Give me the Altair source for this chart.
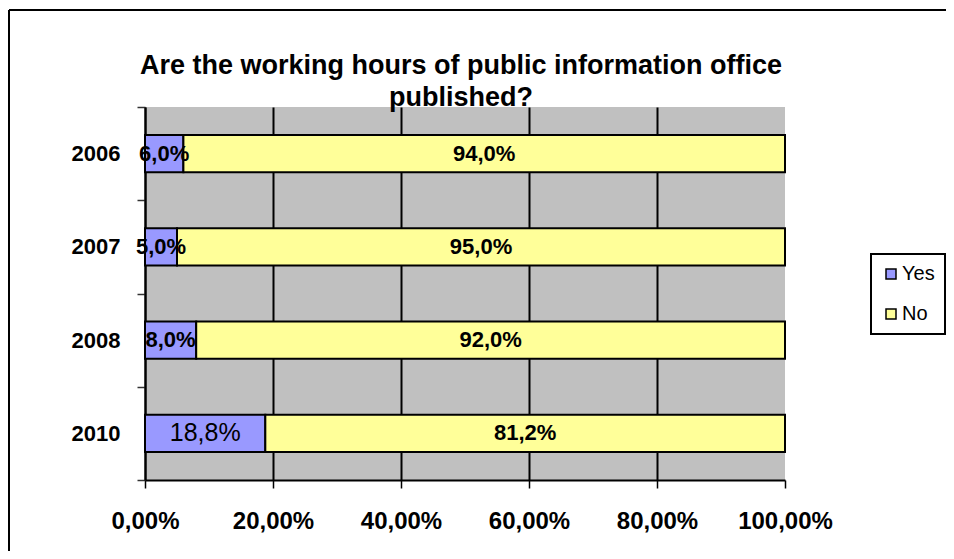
import altair as alt
import pandas as pd

years = ["2006", "2007", "2008", "2010"]
yes_pct = [6.0, 5.0, 8.0, 18.8]
no_pct = [94.0, 95.0, 92.0, 81.2]
answers = ["Yes", "No"]
colors = ["#9999FF", "#FFFF99"]
x_ticks = [0, 0.2, 0.4, 0.6, 0.8, 1.0]
title_lines = ["Are the working hours of public information office", "published?"]

rows = []
for yr, a, b in zip(years, yes_pct, no_pct):
    rows.append({"year": yr, "answer": "Yes", "value": a / 100, "idx": 0})
    rows.append({"year": yr, "answer": "No", "value": b / 100, "idx": 1})
df = pd.DataFrame(rows)

FONT = "Liberation Sans"

base = alt.Chart(df).transform_stack(
    stack="value", groupby=["year"], as_=["x0", "x1"],
    sort=[alt.SortField("idx", order="ascending")]
).transform_calculate(
    mid="(datum.x0 + datum.x1) / 2",
    label="replace(format(datum.value, '.1%'), '.', ',')"
)

y_scale = alt.Scale(paddingInner=0, paddingOuter=0)

y_enc = alt.Y(
    "year:N", sort=years, title=None, scale=y_scale,
    axis=alt.Axis(
        tickBand="extent", labelFont=FONT, labelFontSize=22, labelFontWeight="bold",
        labelColor="black", labelPadding=17, tickSize=8, tickColor="#333333",
        tickWidth=1.5, domainColor="black", domainWidth=2, grid=False,
    ),
)

x_axis = alt.Axis(
    values=x_ticks, labelExpr="replace(format(datum.value, '.2%'), '.', ',')",
    labelFont=FONT, labelFontSize=24, labelFontWeight="bold", labelColor="black",
    labelPadding=21, tickSize=8, tickColor="black", tickWidth=1.5,
    labelOverlap=False, labelFlush=False, labelBound=False,
    domainColor="black", domainWidth=2, grid=True, gridColor="black", gridWidth=2,
    gridOpacity={"condition": {"test": "datum.value >= 1", "value": 0}, "value": 1},
    title=None,
)

bars = base.mark_bar(stroke="black", strokeWidth=2, height=alt.RelativeBandSize(0.4)).encode(
    x=alt.X("x0:Q", scale=alt.Scale(domain=[0, 1], nice=False), axis=x_axis, title=None),
    x2="x1:Q",
    y=y_enc,
    color=alt.Color(
        "answer:N", scale=alt.Scale(domain=answers, range=colors),
        legend=alt.Legend(
            orient="none", legendX=726, legendY=147, title=None,
            strokeColor="black", fillColor="white", padding=10,
            labelFont=FONT, labelFontSize=20, labelColor="black",
            symbolType="square", symbolSize=100, symbolStrokeColor="black",
            symbolStrokeWidth=1.5, rowPadding=20, labelOffset=1,
        ),
    ),
)

labels_bold = base.transform_filter(
    "!(datum.year == '2010' && datum.answer == 'Yes')"
).mark_text(font=FONT, fontSize=22, fontWeight="bold", color="black").encode(
    x=alt.X("mid:Q"), y=alt.Y("year:N", sort=years), text="label:N"
)

labels_plain = base.transform_filter(
    "datum.year == '2010' && datum.answer == 'Yes'"
).mark_text(font=FONT, fontSize=25, fontWeight="normal", color="black").encode(
    x=alt.X("mid:Q"), y=alt.Y("year:N", sort=years), text="label:N"
)

frame = alt.Chart(alt.Data(values=[{}]))
left_line = frame.mark_rule(color="black", strokeWidth=2).encode(
    x=alt.value(-136), y=alt.value(-97), y2=alt.value(444)
)
top_line = frame.mark_rule(color="black", strokeWidth=2).encode(
    x=alt.value(-136), x2=alt.value(801), y=alt.value(-97)
)

chart = alt.layer(bars, labels_bold, labels_plain, left_line, top_line).properties(
    width=640, height=373,
    title=alt.TitleParams(
        title_lines, font=FONT, fontSize=27, fontWeight="bold", color="black",
        anchor="middle", baseline="bottom", offset=-130, lineHeight=32, dx=-4,
        frame="group",
    ),
    autosize=alt.AutoSizeParams(type="none"),
    padding={"left": 137, "top": 99, "right": 161, "bottom": 71},
).configure_view(fill="#C0C0C0", stroke=None).configure_legend(strokeWidth=2)

chart.save("out.html", embed_options={"renderer": "svg", "actions": False})
